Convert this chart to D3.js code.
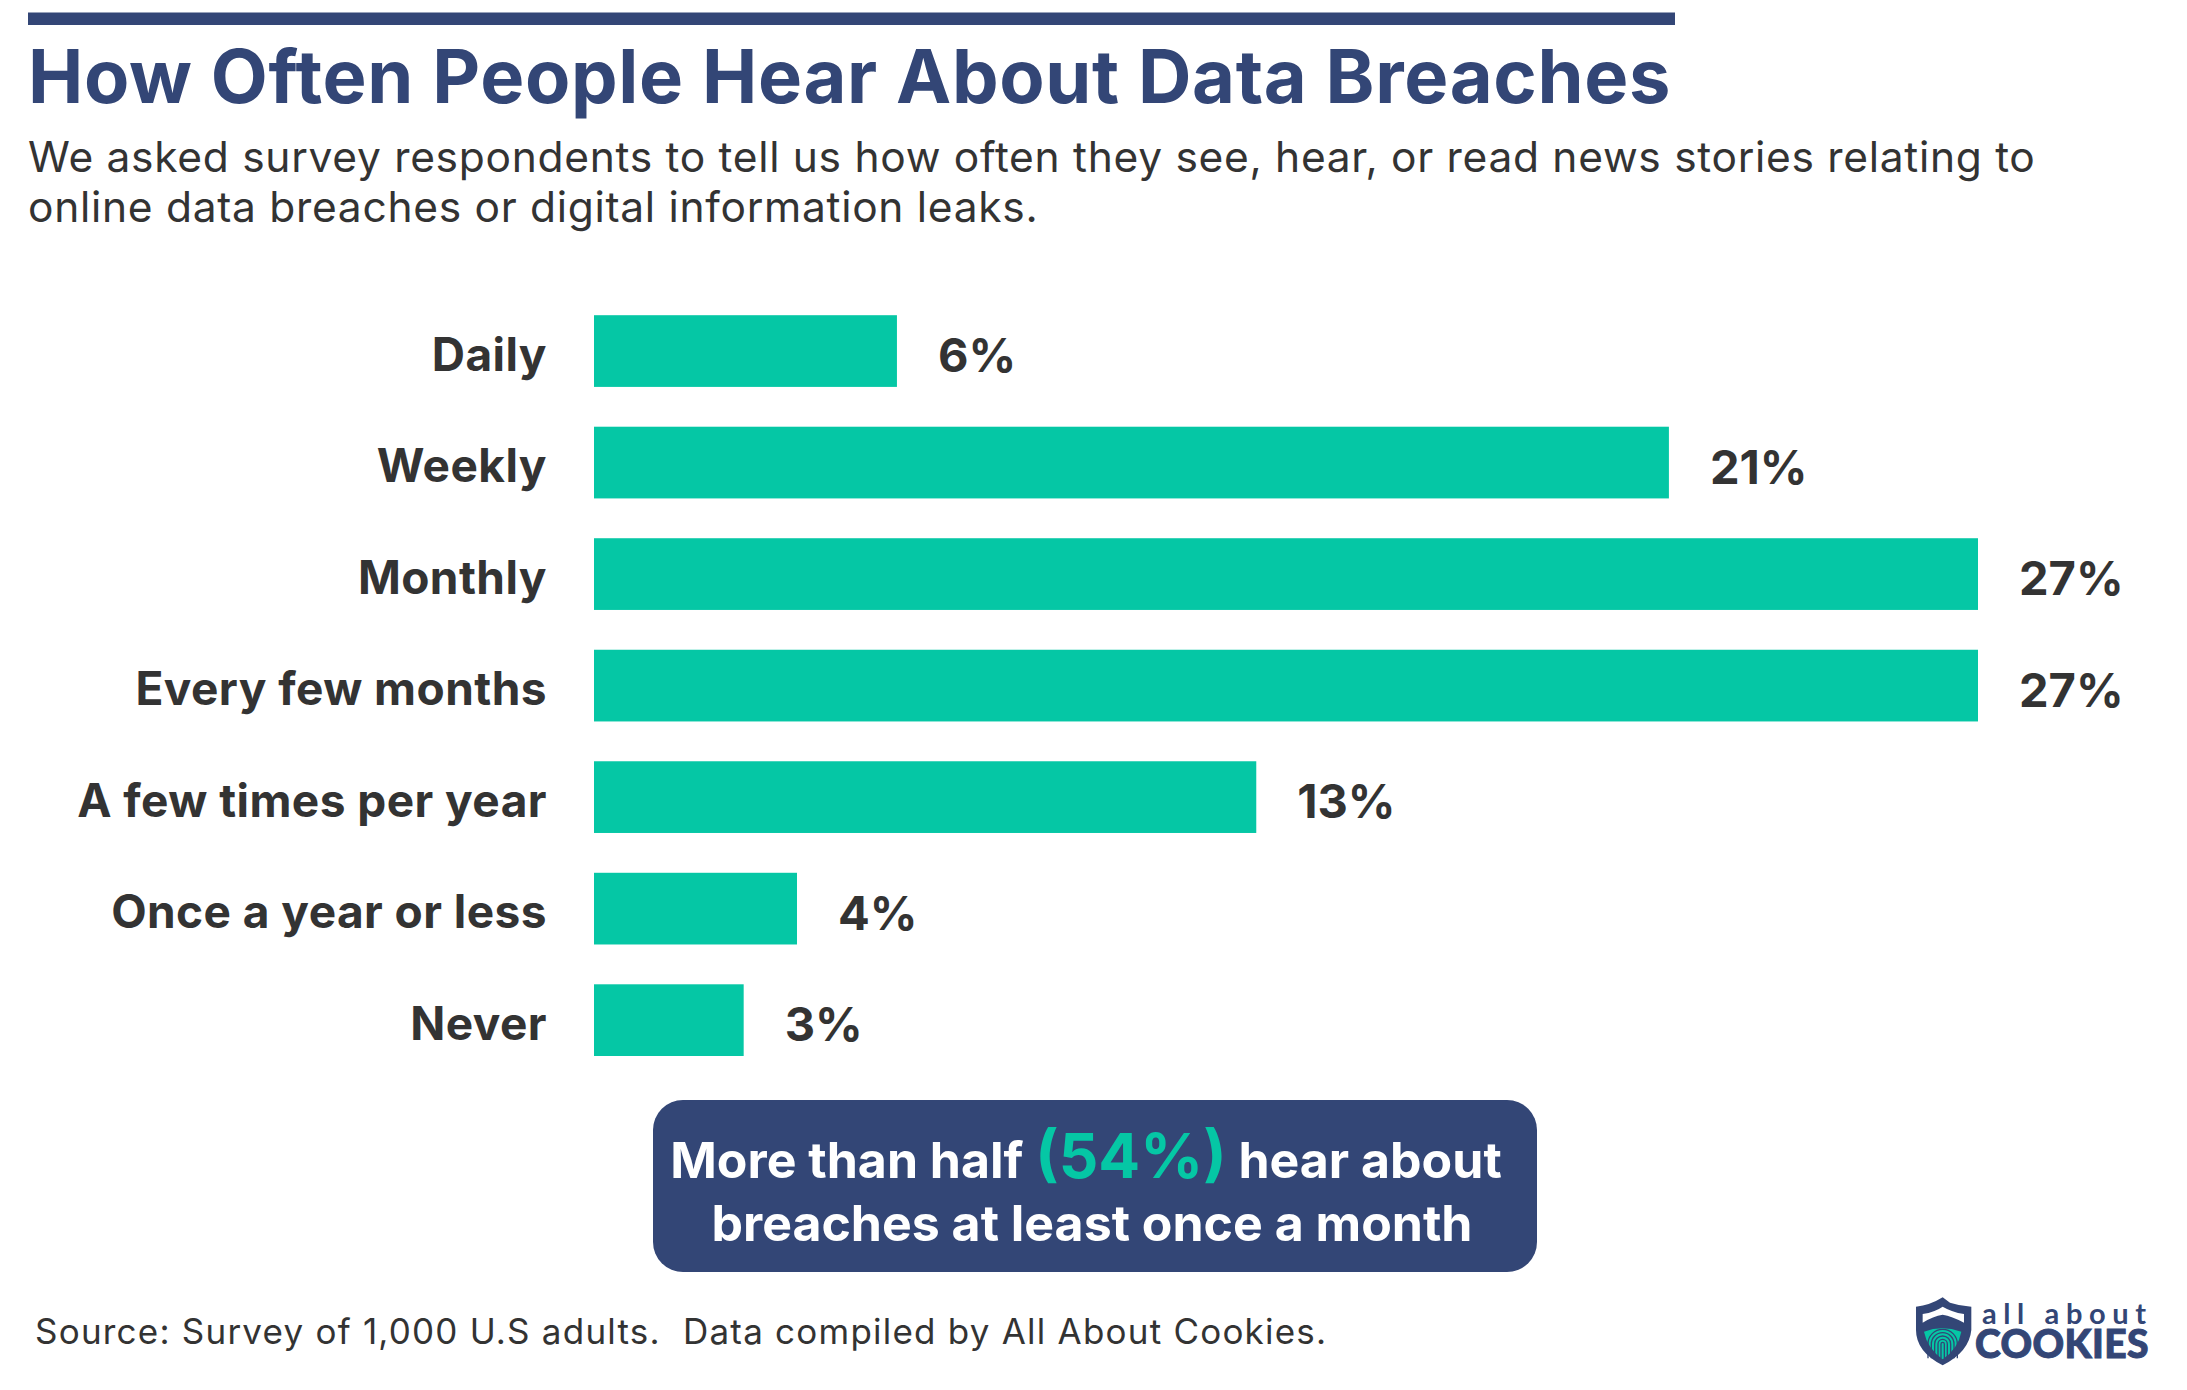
<!DOCTYPE html>
<html>
<head>
<meta charset="utf-8">
<title>How Often People Hear About Data Breaches</title>
<script src="https://cdnjs.cloudflare.com/ajax/libs/d3/7.8.5/d3.min.js"></script>
<style>
	html, body { margin: 0; padding: 0; background: #fff; }
	svg { display: block; font-family: Inter, sans-serif; }
</style>
</head>
<body>
<script>
var categories = ["Daily", "Weekly", "Monthly", "Every few months", "A few times per year", "Once a year or less", "Never"];
// Bar lengths; the printed labels are rounded
var barValues = [5.91, 20.97, 27, 27, 12.92, 3.96, 2.92];
var barLabels = ["6%", "21%", "27%", "27%", "13%", "4%", "3%"];
var subtitleLines = [
	"We asked survey respondents to tell us how often they see, hear, or read news stories relating to",
	"online data breaches or digital information leaks."
];

var navy = "#334676",
	teal = "#05c7a5",
	ink = "#333333";

var width = 2187,
	height = 1390;

var svg = d3.select("body").append("svg")
	.attr("width", width)
	.attr("height", height);

// Header
svg.append("rect")
	.attr("x", 28).attr("y", 12.5)
	.attr("width", 1647).attr("height", 12.5)
	.attr("fill", navy);

svg.append("text")
	.attr("x", 28).attr("y", 103)
	.attr("font-size", 74).attr("font-weight", 700)
	.attr("letter-spacing", 0.66)
	.attr("fill", navy)
	.text("How Often People Hear About Data Breaches");

svg.selectAll("text.subtitle")
	.data(subtitleLines)
	.enter()
	.append("text")
	.attr("class", "subtitle")
	.attr("x", 28)
	.attr("y", function(d, i) { return 172 + i * 50; })
	.attr("font-size", 42.5)
	.attr("letter-spacing", 0.7)
	.attr("fill", ink)
	.text(function(d) { return d; });

// Scales were fitted to the bar edges in the picture
var xScale = d3.scaleLinear().domain([0, 27]).range([594, 1978]);
var yScale = d3.scaleBand().domain(categories).range([315.2, 1056]).paddingInner(0.357);

svg.selectAll("rect.bar")
	.data(categories)
	.enter()
	.append("rect")
	.attr("class", "bar")
	.attr("x", xScale(0))
	.attr("y", function(d) { return yScale(d); })
	.attr("width", function(d, i) { return xScale(barValues[i]) - xScale(0); })
	.attr("height", yScale.bandwidth())
	.attr("fill", teal);

var yAxis = d3.axisLeft(yScale).tickSize(0).tickPadding(0);
var axisG = svg.append("g")
	.attr("transform", "translate(547,0)")
	.call(yAxis);
axisG.select(".domain").remove();
axisG.selectAll("text")
	.attr("font-family", "Inter, sans-serif")
	.attr("font-size", 46)
	.attr("font-weight", 700)
	.attr("letter-spacing", 0.45)
	.attr("fill", ink)
	.attr("dy", 19.5);

svg.selectAll("text.value")
	.data(categories)
	.enter()
	.append("text")
	.attr("class", "value")
	.attr("x", function(d, i) { return xScale(barValues[i]) + 41; })
	.attr("y", function(d) { return yScale(d) + yScale.bandwidth() / 2 + 21; })
	.attr("font-size", 47)
	.attr("font-weight", 700)
	.attr("fill", ink)
	.text(function(d, i) { return barLabels[i]; });

// Callout box
svg.append("rect")
	.attr("x", 653).attr("y", 1100)
	.attr("width", 884).attr("height", 172)
	.attr("rx", 30)
	.attr("fill", navy);

var line1 = svg.append("text")
	.attr("x", 1086).attr("y", 1178)
	.attr("text-anchor", "middle")
	.attr("font-size", 50).attr("font-weight", 700)
	.attr("fill", "#ffffff");
line1.append("tspan").text("More than half ");
line1.append("tspan").attr("font-size", 62).attr("fill", teal).text("(54%)");
line1.append("tspan").text(" hear about");

svg.append("text")
	.attr("x", 1092).attr("y", 1241)
	.attr("text-anchor", "middle")
	.attr("font-size", 50).attr("font-weight", 700)
	.attr("fill", "#ffffff")
	.text("breaches at least once a month");

// Source
svg.append("text")
	.attr("x", 35).attr("y", 1344)
	.attr("font-size", 35)
	.attr("letter-spacing", 1.22)
	.attr("fill", ink)
	.text("Source: Survey of 1,000 U.S adults.\u00a0 Data compiled by All About Cookies.");

// Logo, drawn at 3x and scaled down
var logo = svg.append("g").attr("transform", "translate(1880,1280) scale(0.3333)");
logo.append("path")
	.attr("d", "M188 52 L210 68 Q240 78 274 80 L274 150 Q268 215 188 256 Q108 215 108 150 L108 80 Q150 76 188 52 Z")
	.attr("fill", navy);
logo.append("path")
	.attr("d", "M128 128 L128 102 Q165 96 188 80 Q215 96 252 102 L252 128 Q215 108 188 104 Q160 108 128 128 Z")
	.attr("fill", "#ffffff");
logo.append("path")
	.attr("d", "M132 155 Q185 135 244 155 Q235 205 188 238 Q142 205 132 155 Z")
	.attr("fill", teal);
[44, 34, 24, 14, 5].forEach(function(r) {
	logo.append("path")
		.attr("d", "M" + (188 - r) + " 235 L" + (188 - r) + " 192 A" + r + " " + r + " 0 0 1 " + (188 + r) + " 192 L" + (188 + r) + " 235")
		.attr("fill", "none")
		.attr("stroke", navy)
		.attr("stroke-width", 4);
});
svg.append("text")
	.attr("x", 1982).attr("y", 1324)
	.attr("font-family", "Lato, sans-serif")
	.attr("font-size", 29).attr("font-weight", 700)
	.attr("letter-spacing", 6.6)
	.attr("fill", navy)
	.text("all about");
svg.append("text")
	.attr("x", 1975).attr("y", 1358)
	.attr("font-family", "Lato, sans-serif")
	.attr("font-size", 39).attr("font-weight", 900)
	.attr("stroke", navy).attr("stroke-width", 1)
	.attr("letter-spacing", 0.4)
	.attr("fill", navy)
	.text("COOKIES");
</script>
</body>
</html>
